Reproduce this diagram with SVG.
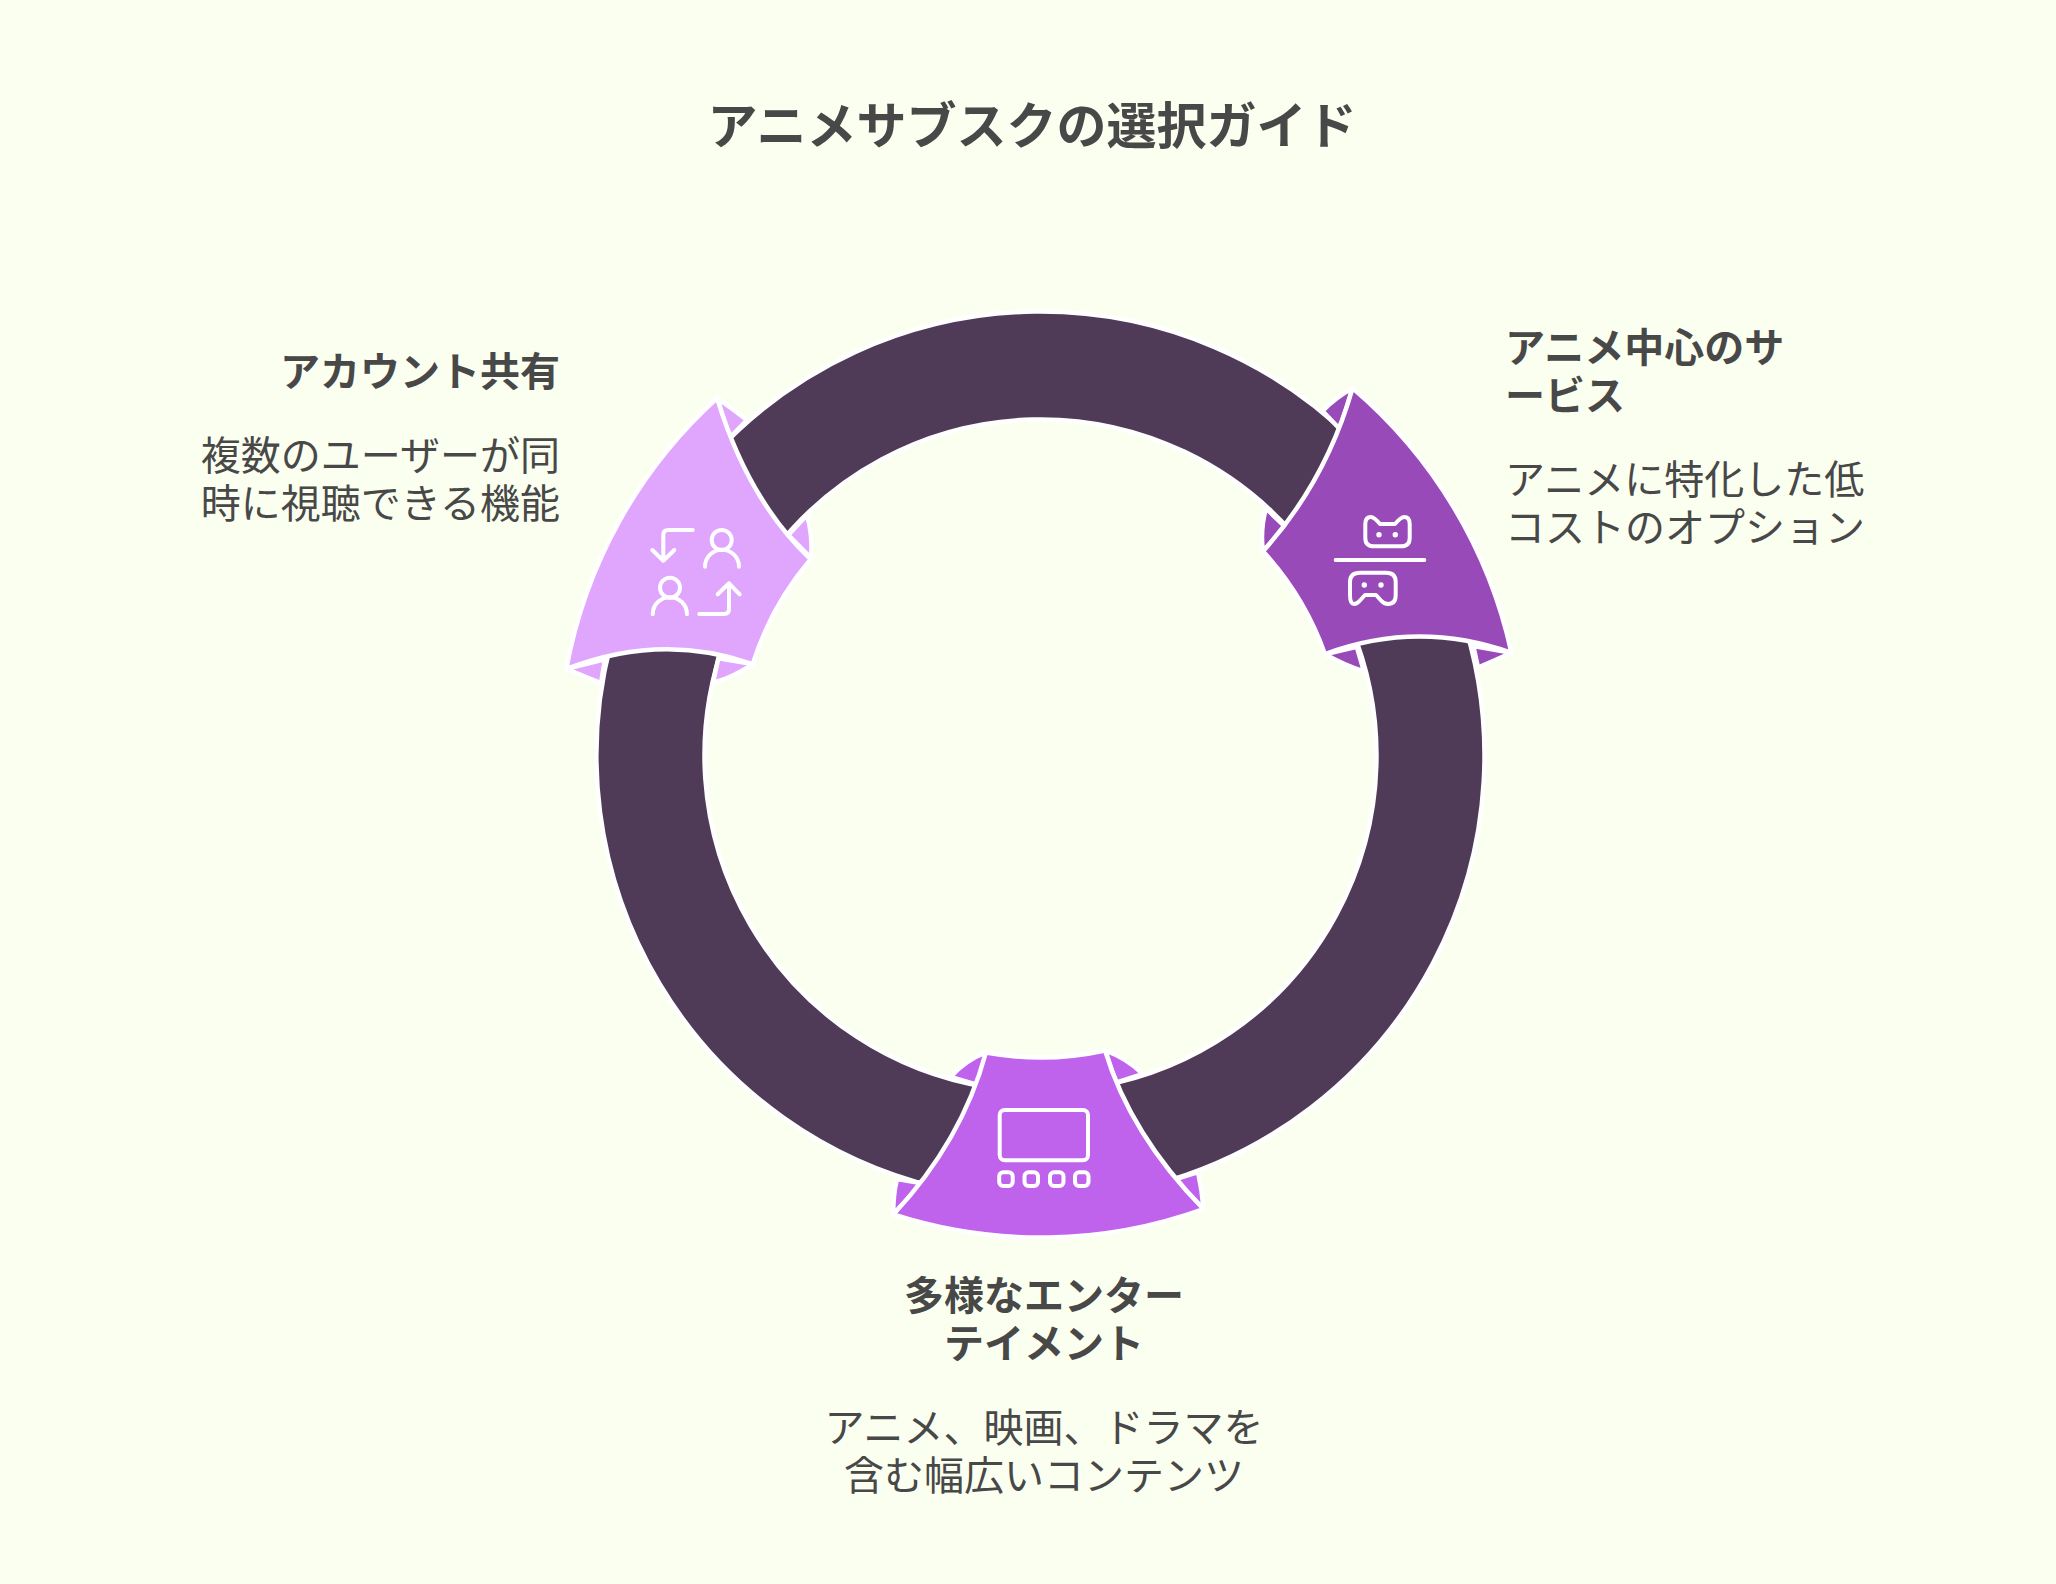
<svg xmlns="http://www.w3.org/2000/svg" width="2056" height="1584" viewBox="0 0 2056 1584">
<style>
.bg{fill:#fbffef}
.seg{fill:#4f3b57;stroke:#fff;stroke-width:4.5}
.n1{fill:#e0a6fe;stroke:#fff;stroke-width:4.5;stroke-linejoin:round}
.n2{fill:#974ab8;stroke:#fff;stroke-width:4.5;stroke-linejoin:round}
.n3{fill:#bf62ec;stroke:#fff;stroke-width:4.5;stroke-linejoin:round}
.ic{fill:none;stroke:#fff;stroke-width:4;stroke-linecap:round;stroke-linejoin:round}
.dot{fill:#fff}
text{font-family:"Noto Sans CJK JP","Noto Sans",sans-serif;fill:#484848}
.t{font-size:50px;font-weight:700;text-anchor:middle}
.h{font-size:40px;font-weight:700}
.d{font-size:40px;font-weight:400}
.e{text-anchor:end}
.m{text-anchor:middle}
</style>
<rect class="bg" width="2056" height="1584"/>
<text id="title" class="t" x="1032" y="143.5">アニメサブスクの選択ガイド</text>
<g id="connectors">
<path class="seg" d="M717.9,450.5 A444,444 0 0 1 1354.7,441.8 L1296.3,537.5 A336,336 0 0 0 774.3,550.4 Z"/>
<path class="seg" d="M1459.9,609.9 A444,444 0 0 1 1156,1184.3 L1100.1,1086.1 A336,336 0 0 0 1350.8,626.6 Z"/>
<path class="seg" d="M936,1187.1 A444,444 0 0 1 610.5,644.5 L724.7,640.8 A336,336 0 0 0 985.8,1087 Z"/>
</g>
<g id="node-account">
<path class="n1" d="M717.1,398.1 Q733,409 747,420 L729.5,438 Z"/>
<path class="n1" d="M811,558 Q813,536 807,515 L788.3,535 Z"/>
<path class="n1" d="M566.3,668.9 Q585,677 601,683 L605,659.3 Z"/>
<path class="n1" d="M752.7,664.1 Q734,677 713,683 L718.3,658.3 Z"/>
<path class="n1" d="M717.1,398.1 A482,482 0 0 0 566.3,668.9 Q662,632 752.7,664.1 A302,302 0 0 1 810.7,559.3 Q748,500 717.1,398.1 Z"/>
<path class="ic" d="M692.7,530 H668.3 Q663.3,530 663.3,535 V560.7 M652.3,550 L663.3,560.7 L674.3,550"/>
<circle class="ic" cx="721.7" cy="540" r="10"/>
<path class="ic" d="M705,566.7 A17,17 0 0 1 739,566.7"/>
<circle class="ic" cx="670" cy="587.7" r="10"/>
<path class="ic" d="M652.7,614.3 A17,17 0 0 1 687,614.3"/>
<path class="ic" d="M699.3,614 H724 Q729,614 729,609 V583.3 M717.7,594.3 L729,583.3 L739.7,594.3"/>
<text class="h e" x="560" y="385.5">アカウント共有</text>
<text class="d e" x="560" y="469.5">複数のユーザーが同</text>
<text class="d e" x="560" y="517.5">時に視聴できる機能</text>
</g>
<g id="node-anime">
<path class="n2" d="M1352.5,388.1 Q1335,398 1322.5,411 L1340,429.3 Z"/>
<path class="n2" d="M1263,551.3 Q1260,530 1266,508.5 L1285,526.7 Z"/>
<path class="n2" d="M1325,654.2 Q1344,665 1364,671.5 L1356.7,646.7 Z"/>
<path class="n2" d="M1511.5,652.9 Q1494,661 1478,667.5 L1473.3,646 Z"/>
<path class="n2" d="M1352.5,388.1 A482,482 0 0 1 1511.5,652.9 Q1417.3,619.7 1325,654.2 A302,302 0 0 0 1263,551.3 Q1326,481.3 1352.5,388.1 Z"/>
<path class="ic" d="M1365.3,538 V524 Q1365.3,517 1371,517 Q1374,517 1380,524 H1395 Q1401,517 1404,517 Q1409.7,517 1409.7,524 V538 Q1409.7,546.3 1401,546.3 H1374 Q1365.3,546.3 1365.3,538 Z"/>
<circle class="dot" cx="1379" cy="534.7" r="2.7"/><circle class="dot" cx="1395.3" cy="534.7" r="2.7"/>
<path class="ic" d="M1335.7,560 H1424.3"/>
<path class="ic" d="M1360,572.7 H1386 Q1395.7,572.7 1395.7,582 V595 Q1395.7,604 1388,604 Q1384,604 1381,600.5 L1376,595 H1365 L1360,600.5 Q1357,604 1354,604 Q1350,604 1350,595 V582 Q1350,572.7 1360,572.7 Z"/>
<circle class="dot" cx="1364.3" cy="585" r="2.7"/><circle class="dot" cx="1381" cy="585" r="2.7"/>
<text class="h" x="1505" y="361.5">アニメ中心のサ</text>
<text class="h" x="1505" y="409.5">ービス</text>
<text class="d" x="1505" y="493.5">アニメに特化した低</text>
<text class="d" x="1505" y="541.5">コストのオプション</text>
</g>
<g id="node-variety">
<path class="n3" d="M985.9,1052.5 Q966,1060 950.5,1077 L977.7,1085 Z"/>
<path class="n3" d="M1105.1,1050.5 Q1126,1058 1143,1074 L1116,1082.7 Z"/>
<path class="n3" d="M893.3,1214.5 Q893,1195 897,1179 L921.7,1183.3 Z"/>
<path class="n3" d="M1203.5,1209 Q1202,1190 1198,1172 L1175,1179.3 Z"/>
<path class="n3" d="M985.9,1052.5 A302,302 0 0 0 1105.1,1050.5 Q1130.3,1134.3 1203.5,1209 A481,481 0 0 1 893.3,1214.5 Q962,1141 985.9,1052.5 Z"/>
<rect class="ic" x="999.7" y="1110" width="88.3" height="50.3" rx="5"/>
<rect class="ic" x="999.2" y="1172.3" width="13.5" height="13.7" rx="4"/>
<rect class="ic" x="1024.5" y="1172.3" width="13.5" height="13.7" rx="4"/>
<rect class="ic" x="1050" y="1172.3" width="13.5" height="13.7" rx="4"/>
<rect class="ic" x="1075" y="1172.3" width="13.5" height="13.7" rx="4"/>
<text class="h m" x="1044" y="1309.5">多様なエンター</text>
<text class="h m" x="1044" y="1357.5">テイメント</text>
<text class="d m" x="1044" y="1441.5">アニメ、映画、ドラマを</text>
<text class="d m" x="1044" y="1489.5">含む幅広いコンテンツ</text>
</g>
</svg>
